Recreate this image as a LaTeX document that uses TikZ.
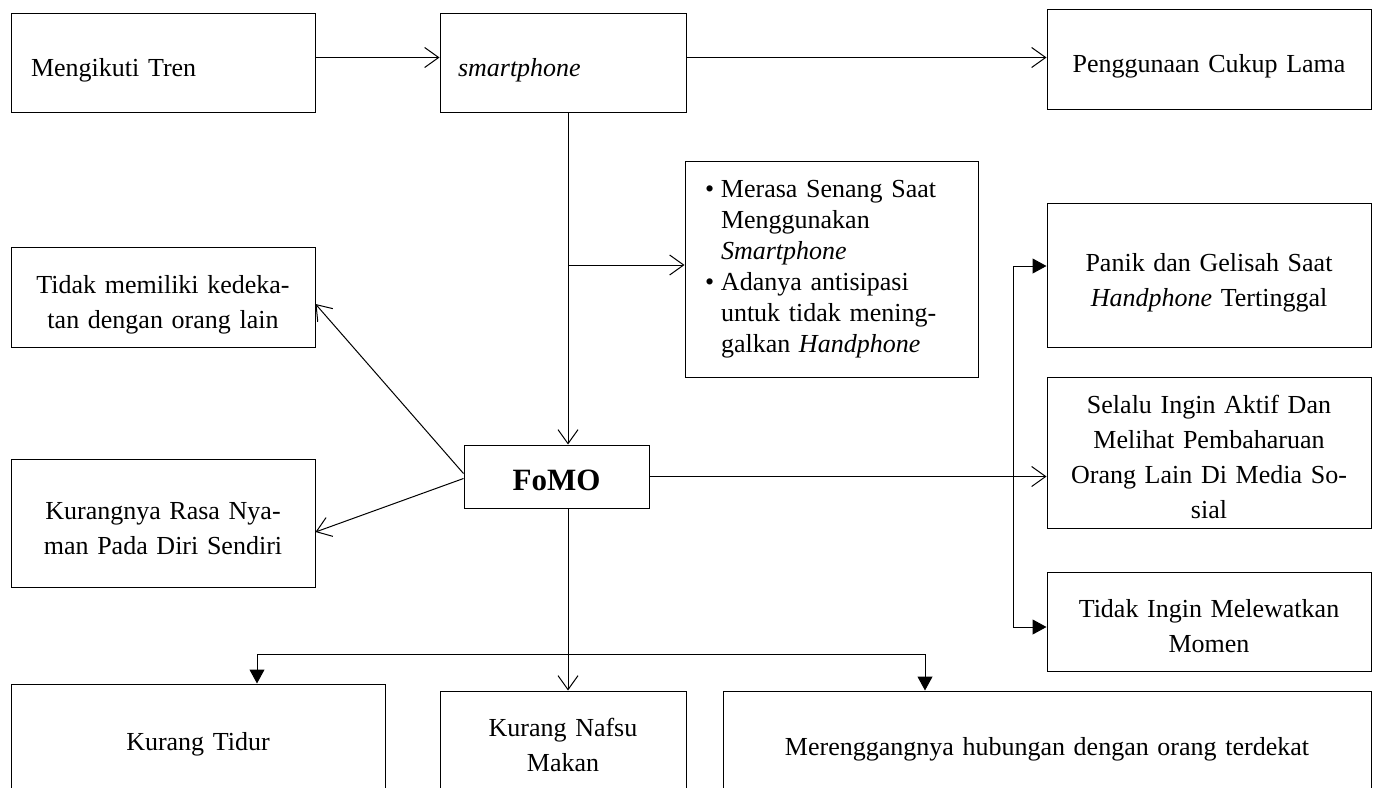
\documentclass[tikz,border=0pt]{standalone}
\usepackage{fontspec}
\setmainfont{Liberation Serif}
\usetikzlibrary{arrows.meta}

\begin{document}
\begin{tikzpicture}
            [x=1pt,y=-1pt,
             Frame/.style={draw=black,line width=1pt,rectangle,inner ysep=0pt,inner xsep=10pt,font=\fontsize{26}{35}\selectfont},
             Box/.style={Frame,text width=#1,align=center,
               execute at begin node={\rule{0pt}{34pt}},execute at end node={\rule[-7pt]{0pt}{7pt}}},
             Open/.style={line width=1pt,-{Straight Barb[length=14pt,width=20pt]}},
             Solid/.style={line width=1pt,-{Triangle[length=14pt,width=15pt]}}];
            \useasboundingbox (0,0) rectangle (1373,787);
            \clip (0,0) rectangle (1373,787);
            \node[Box=264pt,inner xsep=20pt,align=left,minimum height=99pt] (tren) at (163,62.5) {Mengikuti Tren};
            \node[Box=210pt,inner xsep=18pt,align=left,minimum height=99pt] (smart) at (563,62.5) {\textit{smartphone}};
            \node[Box=304pt,minimum height=100pt] (lama) at (1209,59) {Penggunaan Cukup Lama};
            \node[Frame,text width=253pt,inner xsep=20pt,align=left,minimum height=216pt,font=\fontsize{26}{31}\selectfont] (senang) at (831.5,269) {\makebox[16pt][l]{\textbullet}Merasa Senang Saat\\\hspace*{16pt}Menggunakan\\\hspace*{16pt}\textit{Smartphone}\\\makebox[16pt][l]{\textbullet}Adanya antisipasi\\\hspace*{16pt}untuk tidak mening-\\\hspace*{16pt}galkan \textit{Handphone}};
            \node[Box=284pt,minimum height=100pt] (dekat) at (163,297) {Tidak memiliki kedeka-\\tan dengan orang lain};
            \node[Box=284pt,minimum height=128pt] (nyaman) at (163,523) {Kurangnya Rasa Nya-\\man Pada Diri Sendiri};
            \node[Box=165pt,minimum height=63pt,font=\fontsize{31}{35}\selectfont\bfseries] (fomo) at (556.5,476.5) {FoMO};
            \node[Box=304pt,minimum height=144pt] (panik) at (1209,275) {Panik dan Gelisah Saat\\\textit{Handphone} Tertinggal};
            \node[Box=304pt,minimum height=151pt] (aktif) at (1209,452.5) {Selalu Ingin Aktif Dan\\Melihat Pembaharuan\\Orang Lain Di Media So-\\sial};
            \node[Box=304pt,minimum height=99pt] (momen) at (1209,621.5) {Tidak Ingin Melewatkan\\Momen};
            \node[Box=354pt,minimum height=105pt] (tidur) at (198,736.5) {Kurang Tidur};
            \node[Box=226pt,minimum height=98pt] (makan) at (563,740) {Kurang Nafsu\\Makan};
            \node[Box=628pt,minimum height=101pt] (renggang) at (1047,741.5) {Merenggangnya hubungan dengan orang terdekat};
            \coordinate (fork) at (568,265);
            \coordinate (upper) at (1013,266);
            \coordinate (lower) at (1013,627);
            \coordinate (busl) at (257,654);
            \coordinate (busr) at (925,654);
            \draw[Open] ([yshift=5pt]tren.east) -- ([yshift=5pt]smart.west);
            \draw[Open] ([yshift=5pt]smart.east) -- ([yshift=5pt]smart.east -| lama.west);
            \draw[Open] (smart.south -| fork) -- (fomo.north -| fork);
            \draw[Open] (fork) -- (fork -| senang.west);
            \draw[Open] ([yshift=3pt]fomo.west) -- ([yshift=-7pt]dekat.east);
            \draw[Open] ([yshift=-2pt]fomo.west) -- ([yshift=-9pt]nyaman.east);
            \draw[Open] (fomo.east) -- (fomo.east -| aktif.west);
            \draw[Solid] (upper) -- (upper -| panik.west);
            \draw[Solid] (upper) -- (lower) -- (lower -| momen.west);
            \draw[Open] (fomo.south -| fork) -- (makan.north -| fork);
            \draw[Solid] (busr) -- (busl) -- (busl |- tidur.north);
            \draw[Solid] (busr) -- (busr |- renggang.north);
        \end{tikzpicture}
\end{document}
